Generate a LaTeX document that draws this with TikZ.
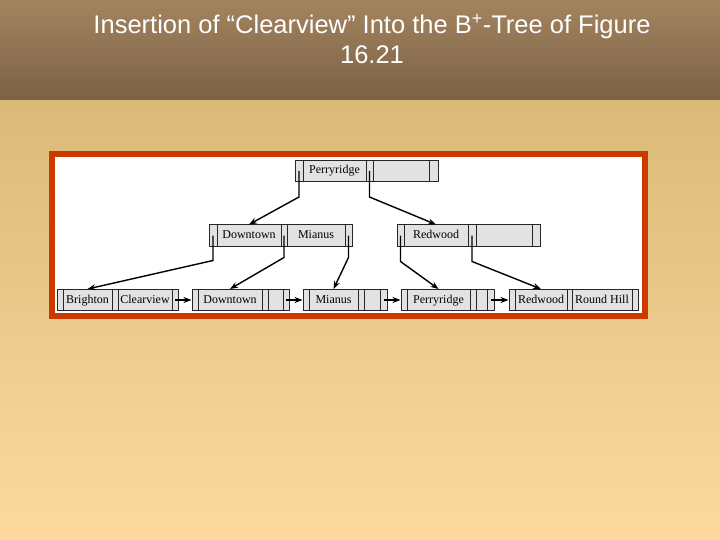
\documentclass[tikz,border=0pt]{standalone}
\usepackage{fontspec}
\setmainfont{Liberation Serif}
\newfontfamily\titlefont{Liberation Sans}
\usetikzlibrary{arrows.meta}
\definecolor{hdtop}{HTML}{A3845F}
\definecolor{hdbot}{HTML}{7C6145}
\definecolor{bdtop}{HTML}{DABA78}
\definecolor{bdbot}{HTML}{FDD9A0}
\definecolor{frame}{HTML}{CC3A00}
\definecolor{cellg}{HTML}{E2E2E2}
\tikzset{
 cellst/.style={draw=black!85, fill=cellg, line width=1pt, inner sep=0pt, minimum height=21pt, text height=8.5pt, text depth=2.5pt, font=\fontsize{12}{13}\selectfont},
 arr/.style={line width=1.4pt, -{Stealth[length=8pt,width=6pt]}}
}
\newcommand\cellbox[5]{\node[cellst, minimum width={(#3-#2)*1pt}] (#1) at ({(#2+#3)/2},#4) {#5};}
\begin{document}
\begin{tikzpicture}[x=1pt,y=-1pt]
\useasboundingbox (0,0) rectangle (720,540);
\shade[top color=bdtop, bottom color=bdbot] (0,100) rectangle (720,540);
\shade[top color=hdtop, bottom color=hdbot] (0,0) rectangle (720,100);
\node[text=white, font=\titlefont\fontsize{25.5}{30}\selectfont, align=center] (title) at (372,39) {Insertion of “Clearview” Into the B\textsuperscript{+}-Tree of Figure\\16.21};
\draw[frame, line width=6pt, fill=white] (52,154) rectangle (645,316);
% root
\def\ya{171}
\cellbox{r0}{295}{303}{\ya}{}
\cellbox{rk1}{303}{366}{\ya}{Perryridge}
\cellbox{r1}{366}{373}{\ya}{}
\cellbox{rk2}{373}{429}{\ya}{}
\cellbox{r2}{429}{438}{\ya}{}
% internal
\def\yb{235.5}
\cellbox{a0}{209}{217}{\yb}{}
\cellbox{ak1}{217}{281}{\yb}{Downtown}
\cellbox{a1}{281}{287}{\yb}{}
\cellbox{ak2}{287}{345}{\yb}{Mianus}
\cellbox{a2}{345}{352}{\yb}{}
\cellbox{b0}{397}{404}{\yb}{}
\cellbox{bk1}{404}{468}{\yb}{Redwood}
\cellbox{b1}{468}{476}{\yb}{}
\cellbox{bk2}{476}{532}{\yb}{}
\cellbox{b2}{532}{540}{\yb}{}
% leaves
\def\yc{300}
\cellbox{l10}{57}{63}{\yc}{}
\cellbox{l1k1}{63}{112}{\yc}{Brighton}
\cellbox{l11}{112}{118}{\yc}{}
\cellbox{l1k2}{118}{172}{\yc}{Clearview}
\cellbox{l12}{172}{178}{\yc}{}
\cellbox{l20}{192}{198}{\yc}{}
\cellbox{l2k1}{198}{262}{\yc}{Downtown}
\cellbox{l21}{262}{268}{\yc}{}
\cellbox{l2k2}{268}{283}{\yc}{}
\cellbox{l22}{283}{289}{\yc}{}
\cellbox{l30}{303}{309}{\yc}{}
\cellbox{l3k1}{309}{358}{\yc}{Mianus}
\cellbox{l31}{358}{364}{\yc}{}
\cellbox{l3k2}{364}{380}{\yc}{}
\cellbox{l32}{380}{387}{\yc}{}
\cellbox{l40}{401}{407}{\yc}{}
\cellbox{l4k1}{407}{470}{\yc}{Perryridge}
\cellbox{l41}{470}{476}{\yc}{}
\cellbox{l4k2}{476}{487}{\yc}{}
\cellbox{l42}{487}{494}{\yc}{}
\cellbox{l50}{509}{515}{\yc}{}
\cellbox{l5k1}{515}{567}{\yc}{Redwood}
\cellbox{l51}{567}{572}{\yc}{}
\cellbox{l5k2}{572}{632}{\yc}{Round Hill}
\cellbox{l52}{632}{638}{\yc}{}
% tree pointers
\draw[arr] (r0.center) -- ++(0,26) -- (ak1.north);
\draw[arr] (r1.center) -- ++(0,26) -- (bk1.north);
\draw[arr] (a0.center) -- ++(0,25) -- (l1k1.north);
\draw[arr] (a1.center) -- ++(0,22) -- (l2k1.north);
\draw[arr] (a2.center) -- ++(0,22) -- (l3k1.north);
\draw[arr] (b0.center) -- ++(0,26) -- (l4k1.north);
\draw[arr] (b1.center) -- ++(0,26) -- (l5k1.north);
% leaf chain
\draw[arr] (l12.center) -- (l20.west);
\draw[arr] (l22.center) -- (l30.west);
\draw[arr] (l32.center) -- (l40.west);
\draw[arr] (l42.center) -- (l50.west);
\end{tikzpicture}
\end{document}
